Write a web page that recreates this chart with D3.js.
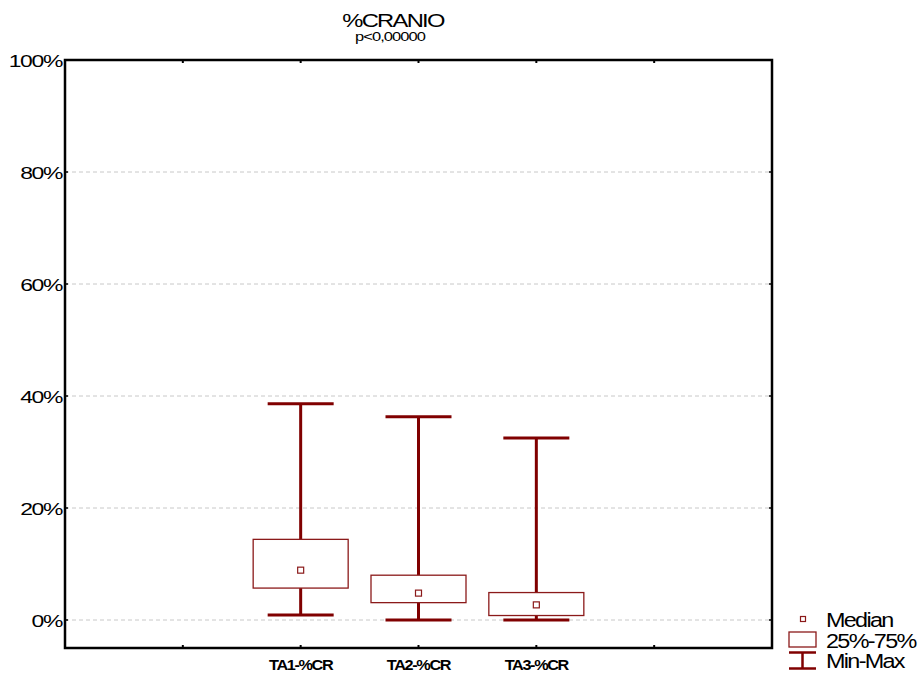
<!DOCTYPE html>
<html>
<head>
<meta charset="utf-8">
<script src="https://cdn.jsdelivr.net/npm/d3@7"></script>
<style>
  body { margin: 0; background: #fff; }
  svg text { font-family: "Liberation Sans", Arial, sans-serif; fill: #000; }
</style>
</head>
<body>
<main></main>
<script>
const categories = ["TA1-%CR", "TA2-%CR", "TA3-%CR"];
const medians = [8.9, 4.8, 2.7];
const q1 = [5.7, 3.1, 0.8];
const q3 = [14.4, 8.0, 4.9];
const mins = [0.9, 0, 0];
const maxs = [38.6, 36.3, 32.5];
const yTicks = [0, 20, 40, 60, 80, 100];
const legendLabels = ["Median", "25%-75%", "Min-Max"];

const width = 920, height = 673;
const red = "#800000";

const svg = d3.select("main").append("svg")
    .attr("width", width)
    .attr("height", height);

const x = d3.scaleLinear().domain([0, 6]).range([65, 772]);
const y = d3.scaleLinear().domain([-5, 100]).range([648, 60]);

// stretched, tight text like the original
function stretched(sel, sx) {
    return sel.attr("transform", function () {
        const tx = +this.getAttribute("data-x"), ty = +this.getAttribute("data-y");
        return `translate(${tx},${ty}) scale(${sx},1)`;
    });
}

// grid
svg.selectAll(".grid").data(yTicks.filter(d => d < 100)).enter().append("line")
    .attr("x1", x(0)).attr("x2", x(6))
    .attr("y1", d => y(d)).attr("y2", d => y(d))
    .attr("stroke", "#c8c8c8").attr("stroke-width", 1)
    .attr("stroke-dasharray", "4,3");

// y labels
svg.selectAll(".ylab").data(yTicks).enter().append("text")
    .attr("data-x", 62).attr("data-y", d => y(d) + 6.5)
    .attr("text-anchor", "end")
    .attr("font-size", 17)
    .attr("letter-spacing", -1)
    .text(d => d + "%")
    .call(stretched, 1.35);

// inner ticks
const xt = d3.range(1, 6);
svg.selectAll(".tt").data(xt).enter().append("line")
    .attr("x1", d => x(d)).attr("x2", d => x(d))
    .attr("y1", y(100)).attr("y2", y(100) + 3)
    .attr("stroke", "#000").attr("stroke-width", 2);
svg.selectAll(".bt").data(xt).enter().append("line")
    .attr("x1", d => x(d)).attr("x2", d => x(d))
    .attr("y1", y(-5)).attr("y2", y(-5) - 3)
    .attr("stroke", "#000").attr("stroke-width", 2);
svg.selectAll(".lt").data(yTicks).enter().append("line")
    .attr("x1", x(0)).attr("x2", x(0) + 3)
    .attr("y1", d => y(d)).attr("y2", d => y(d))
    .attr("stroke", "#000").attr("stroke-width", 1.5);
svg.selectAll(".rt").data(yTicks).enter().append("line")
    .attr("x1", x(6)).attr("x2", x(6) - 3)
    .attr("y1", d => y(d)).attr("y2", d => y(d))
    .attr("stroke", "#000").attr("stroke-width", 1.5);

// frame
svg.append("rect")
    .attr("x", x(0)).attr("y", y(100))
    .attr("width", x(6) - x(0)).attr("height", y(-5) - y(100))
    .attr("fill", "none").attr("stroke", "#000").attr("stroke-width", 2.5);

// boxes
const boxW = 95, capW = 66;
const g = svg.selectAll(".box").data(categories).enter().append("g");

g.append("line")
    .attr("x1", (d, i) => x(i + 2)).attr("x2", (d, i) => x(i + 2))
    .attr("y1", (d, i) => y(maxs[i])).attr("y2", (d, i) => y(q3[i]))
    .attr("stroke", red).attr("stroke-width", 3);
g.append("line")
    .attr("x1", (d, i) => x(i + 2)).attr("x2", (d, i) => x(i + 2))
    .attr("y1", (d, i) => y(q1[i])).attr("y2", (d, i) => y(mins[i]))
    .attr("stroke", red).attr("stroke-width", 3);
g.append("line")
    .attr("x1", (d, i) => x(i + 2) - capW / 2).attr("x2", (d, i) => x(i + 2) + capW / 2)
    .attr("y1", (d, i) => y(maxs[i])).attr("y2", (d, i) => y(maxs[i]))
    .attr("stroke", red).attr("stroke-width", 3);
g.append("line")
    .attr("x1", (d, i) => x(i + 2) - capW / 2).attr("x2", (d, i) => x(i + 2) + capW / 2)
    .attr("y1", (d, i) => y(mins[i])).attr("y2", (d, i) => y(mins[i]))
    .attr("stroke", red).attr("stroke-width", 3);
g.append("rect")
    .attr("x", (d, i) => x(i + 2) - boxW / 2)
    .attr("y", (d, i) => y(q3[i]))
    .attr("width", boxW)
    .attr("height", (d, i) => y(q1[i]) - y(q3[i]))
    .attr("fill", "#fff").attr("stroke", "#8b1a1a").attr("stroke-width", 1.3);
g.append("rect")
    .attr("x", (d, i) => x(i + 2) - 3)
    .attr("y", (d, i) => y(medians[i]) - 3)
    .attr("width", 6).attr("height", 6)
    .attr("fill", "#fff").attr("stroke", "#8b1a1a").attr("stroke-width", 1.2);

// x labels
g.append("text")
    .attr("data-x", (d, i) => x(i + 2)).attr("data-y", 670)
    .attr("text-anchor", "middle")
    .attr("font-size", 14.5).attr("font-weight", "bold")
    .attr("letter-spacing", -1.2)
    .text(d => d)
    .call(stretched, 1.12);

// title
svg.append("text")
    .attr("data-x", 393).attr("data-y", 27)
    .attr("text-anchor", "middle")
    .attr("font-size", 18).attr("letter-spacing", -1.3)
    .text("%CRANIO")
    .call(stretched, 1.32);
svg.append("text")
    .attr("data-x", 390).attr("data-y", 41)
    .attr("text-anchor", "middle")
    .attr("font-size", 12.5).attr("letter-spacing", -0.7)
    .text("p<0,00000")
    .call(stretched, 1.32);

// legend
const lg = svg.append("g");
lg.append("rect")
    .attr("x", 800.5).attr("y", 616.5).attr("width", 5).attr("height", 5)
    .attr("fill", "#fff").attr("stroke", "#8b1a1a").attr("stroke-width", 1.2);
lg.append("rect")
    .attr("x", 789).attr("y", 632).attr("width", 27).attr("height", 15)
    .attr("fill", "#fff").attr("stroke", "#8b1a1a").attr("stroke-width", 1.3);
lg.append("line").attr("x1", 789).attr("x2", 816).attr("y1", 652.5).attr("y2", 652.5)
    .attr("stroke", red).attr("stroke-width", 2.5);
lg.append("line").attr("x1", 789).attr("x2", 816).attr("y1", 668.5).attr("y2", 668.5)
    .attr("stroke", red).attr("stroke-width", 2.5);
lg.append("line").attr("x1", 802.5).attr("x2", 802.5).attr("y1", 652.5).attr("y2", 668.5)
    .attr("stroke", red).attr("stroke-width", 2.5);
lg.selectAll("text").data(legendLabels).enter().append("text")
    .attr("data-x", 826).attr("data-y", (d, i) => 627 + i * 20.5)
    .attr("font-size", 19.5).attr("letter-spacing", -1.4)
    .text(d => d)
    .call(stretched, 1.2);
</script>
</body>
</html>
